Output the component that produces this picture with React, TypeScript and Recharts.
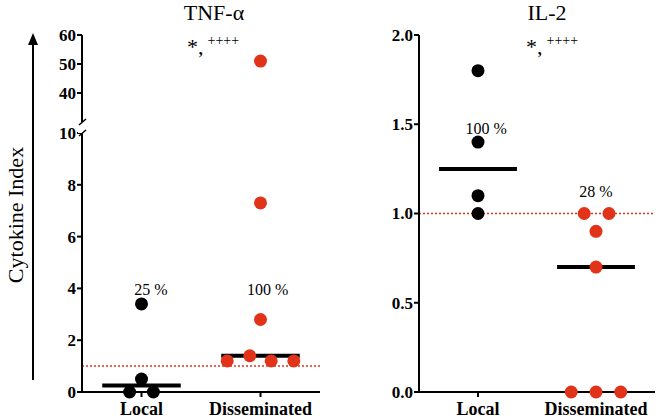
import React from 'react';
import { ScatterChart, Scatter, XAxis, YAxis, ReferenceLine, ReferenceDot } from 'recharts';

const categories = ['Local', 'Disseminated'];

// TNF-α values (cytokine index) and horizontal jitter around the category
const tnfLocal = [3.4, 0.5, 0, 0];
const tnfLocalJitter = [0, 0, -0.1, 0.1];
const tnfDiss = [51, 7.3, 2.8, 1.4, 1.2, 1.2, 1.2];
const tnfDissJitter = [0, 0, 0, -0.09, -0.28, 0.09, 0.28];

// IL-2 values
const il2Local = [1.8, 1.4, 1.1, 1.0];
const il2LocalJitter = [0, 0, 0, 0];
const il2Diss = [1.0, 1.0, 0.9, 0.7, 0, 0, 0];
const il2DissJitter = [-0.1, 0.11, 0, 0, -0.21, 0, 0.21];

const tnfUpperTicks = [30, 40, 50, 60];
const tnfLowerTicks = [0, 2, 4, 6, 8, 10];
const il2Ticks = [0, 0.5, 1.0, 1.5, 2.0];

// percent labels: [category position, y, text]
const tnfPercents: [number, number, string][] = [[1.08, 3.95, '25 %'], [2.06, 3.95, '100 %']];
const il2Percents: [number, number, string][] = [[1.07, 1.48, '100 %'], [2.0, 1.125, '28 %']];

const RED = '#e0331a';
const FONT = '"Liberation Serif", "Times New Roman", serif';

const toPoints = (vals: number[], jit: number[], cat: number) =>
  vals.map((v, i) => ({ x: cat + jit[i], y: v }));

const median = (vals: number[]) => {
  const s = [...vals].sort((a, b) => a - b);
  const m = Math.floor(s.length / 2);
  return s.length % 2 ? s[m] : (s[m - 1] + s[m]) / 2;
};

const dot = (color: string) => (props: any) => (
  <circle cx={props.cx} cy={props.cy} r={6.5} fill={color} />
);

const axisStroke = { stroke: '#000', strokeWidth: 2 };

const YTick = (fmt?: (v: number) => string) => (props: any) => (
  <text x={props.x} y={props.y} dy="0.35em" textAnchor="end" fill="#000"
    fontSize={17} fontWeight="bold" fontFamily={FONT}>
    {fmt ? fmt(props.payload.value) : props.payload.value}
  </text>
);

const XTick = (props: any) => (
  <text x={props.x} y={props.y} dy="0.75em" textAnchor="middle" fill="#000"
    fontSize={18} fontWeight="bold" fontFamily={FONT}>
    {categories[props.payload.value - 1] ?? ''}
  </text>
);

const MedianLine = ({ cat, vals }: { cat: number; vals: number[] }) => (
  <ReferenceLine
    segment={[{ x: cat - 0.33, y: median(vals) }, { x: cat + 0.33, y: median(vals) }]}
    stroke="#000"
    strokeWidth={4}
  />
);

const percentDot = ([x, y, text]: [number, number, string]) => (
  <ReferenceDot
    key={text + x}
    x={x}
    y={y}
    r={0}
    fill="none"
    stroke="none"
    label={{ value: text, position: 'center', fill: '#000', fontSize: 16, fontFamily: FONT }}
  />
);

export default function App() {
  const lowerLocal = toPoints(tnfLocal, tnfLocalJitter, 1).filter((p) => p.y <= 10);
  const lowerDiss = toPoints(tnfDiss, tnfDissJitter, 2).filter((p) => p.y <= 10);
  const upperDiss = toPoints(tnfDiss, tnfDissJitter, 2).filter((p) => p.y >= 30);

  return (
    <div style={{ position: 'absolute', left: 0, top: 0, width: 661, height: 419, background: '#fff', fontFamily: FONT }}>
      {/* TNF-α lower segment */}
      <div style={{ position: 'absolute', left: 0, top: 0 }}>
        <ScatterChart width={330} height={419} margin={{ top: 133, right: 10, bottom: 2, left: 52 }}>
          <XAxis type="number" dataKey="x" domain={[0.5, 2.5]} ticks={[1, 2]}
            axisLine={axisStroke} tickLine={axisStroke} tick={XTick} tickSize={5} tickMargin={4} height={25} />
          <YAxis type="number" dataKey="y" domain={[0, 10]} ticks={tnfLowerTicks} width={30}
            axisLine={axisStroke} tickLine={axisStroke} tick={YTick()} tickSize={5} tickMargin={1} />
          <ReferenceLine y={1} stroke={RED} strokeDasharray="2 2" strokeWidth={1.5} />
          <Scatter data={lowerLocal} shape={dot('#000')} isAnimationActive={false} />
          <Scatter data={lowerDiss} shape={dot(RED)} isAnimationActive={false} />
          <MedianLine cat={1} vals={tnfLocal} />
          <MedianLine cat={2} vals={tnfDiss} />
          {tnfPercents.map(percentDot)}
        </ScatterChart>
      </div>
      {/* TNF-α upper segment */}
      <div style={{ position: 'absolute', left: 0, top: 0 }}>
        <ScatterChart width={330} height={130} margin={{ top: 35, right: 10, bottom: 8, left: 52 }}>
          <XAxis type="number" dataKey="x" domain={[0.5, 2.5]} hide />
          <YAxis type="number" dataKey="y" domain={[30, 60]} ticks={tnfUpperTicks} width={30}
            axisLine={axisStroke} tickLine={axisStroke} tick={YTick()} tickSize={5} tickMargin={1} />
          <Scatter data={upperDiss} shape={dot(RED)} isAnimationActive={false} />
        </ScatterChart>
      </div>
      {/* IL-2 */}
      <div style={{ position: 'absolute', left: 330, top: 0 }}>
        <ScatterChart width={331} height={419} margin={{ top: 35, right: 6, bottom: 2, left: 49 }}>
          <XAxis type="number" dataKey="x" domain={[0.5, 2.5]} ticks={[1, 2]}
            axisLine={axisStroke} tickLine={axisStroke} tick={XTick} tickSize={5} tickMargin={4} height={25} />
          <YAxis type="number" dataKey="y" domain={[0, 2]} ticks={il2Ticks} width={40}
            axisLine={axisStroke} tickLine={axisStroke} tick={YTick((v) => v.toFixed(1))} tickSize={5} tickMargin={1} />
          <ReferenceLine y={1} stroke={RED} strokeDasharray="2 2" strokeWidth={1.5} />
          <Scatter data={toPoints(il2Local, il2LocalJitter, 1)} shape={dot('#000')} isAnimationActive={false} />
          <Scatter data={toPoints(il2Diss, il2DissJitter, 2)} shape={dot(RED)} isAnimationActive={false} />
          <MedianLine cat={1} vals={il2Local} />
          <MedianLine cat={2} vals={il2Diss} />
          {il2Percents.map(percentDot)}
        </ScatterChart>
      </div>
      {/* titles, significance marks, y label, arrow, axis break */}
      <svg width={661} height={419} style={{ position: 'absolute', left: 0, top: 0, pointerEvents: 'none' }}>
        <text x={214} y={20} textAnchor="middle" fontSize={22} fontFamily={FONT}>TNF-α</text>
        <text x={547} y={20} textAnchor="middle" fontSize={22} fontFamily={FONT}>IL-2</text>
        <text x={187} y={54} fontSize={22} fontFamily={FONT}>
          *,<tspan dx={4} dy={-9} fontSize={14}>++++</tspan>
        </text>
        <text x={526} y={54} fontSize={22} fontFamily={FONT}>
          *,<tspan dx={4} dy={-9} fontSize={14}>++++</tspan>
        </text>
        <text x={15} y={215} textAnchor="middle" dominantBaseline="central" fontSize={22} fontFamily={FONT}
          transform="rotate(-90 15 215)">
          Cytokine Index
        </text>
        <line x1={33} y1={380} x2={33} y2={44} stroke="#000" strokeWidth={2} />
        <path d="M28,45 L33,33 L38,45 Z" fill="#000" />
        <rect x={78} y={123} width={8} height={10} fill="#fff" />
        <line x1={79} y1={125} x2={86} y2={119} stroke="#000" strokeWidth={1.5} />
        <line x1={79} y1={136} x2={86} y2={130} stroke="#000" strokeWidth={1.5} />
      </svg>
    </div>
  );
}
